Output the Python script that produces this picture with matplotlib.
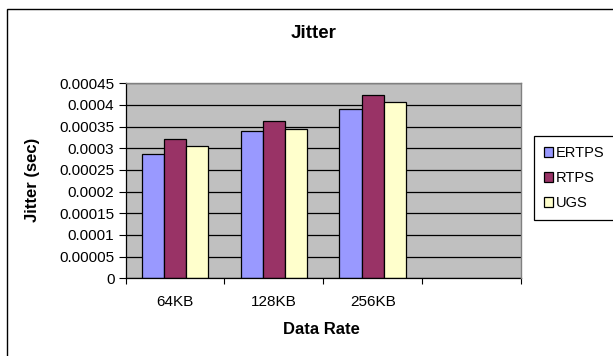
import matplotlib
matplotlib.use("Agg")
import matplotlib.pyplot as plt
from matplotlib.patches import Rectangle
import numpy as np

plt.rcParams['font.family'] = ['Liberation Sans', 'DejaVu Sans']

# Data
categories = ['64KB', '128KB', '256KB', '']
ertps = [0.000286, 0.000340, 0.000391]
rtps = [0.000321, 0.000363, 0.000423]
ugs = [0.000305, 0.000344, 0.000406]
series_names = ['ERTPS', 'RTPS', 'UGS']
y_ticks = [0, 0.00005, 0.0001, 0.00015, 0.0002, 0.00025, 0.0003, 0.00035, 0.0004, 0.00045]
y_tick_labels = ['0', '0.00005', '0.0001', '0.00015', '0.0002', '0.00025',
                 '0.0003', '0.00035', '0.0004', '0.00045']

colors = ['#9999FF', '#993366', '#FFFFCC']

W, H = 613, 356
fig = plt.figure(figsize=(W / 100, H / 100), dpi=100)
fig.patch.set_facecolor('white')

# Chart area border
fig.patches.append(Rectangle((7 / W, -0.2), 2, 1.2 - 9 / H, transform=fig.transFigure,
                             fill=False, edgecolor='black', linewidth=1.0))

left, right, top, bottom = 125.5, 521, 83.3, 278.3
ax = fig.add_axes([left / W, 1 - bottom / H, (right - left) / W, (bottom - top) / H])
ax.set_facecolor('#C0C0C0')

x = np.arange(len(categories)) + 0.5
bw = 0.224
for i, (vals, name, c) in enumerate(zip([ertps, rtps, ugs], series_names, colors)):
    xs = x[:len(vals)] + (i - 1) * bw
    ax.bar(xs, vals, width=bw, color=c, edgecolor='black', linewidth=0.9, label=name, zorder=2)

ax.set_xlim(0, len(categories))
ax.set_ylim(0, 0.00045)

ax.set_yticks(y_ticks)
ax.set_yticklabels(y_tick_labels, fontsize=11)
ax.tick_params(axis='y', length=5, width=0.8, pad=3, color='black')

ax.set_xticks(x)
ax.set_xticklabels(categories, fontsize=11)
ax.set_xticks(np.arange(len(categories) + 1), minor=True)
ax.tick_params(axis='x', which='major', length=0, pad=12)
ax.tick_params(axis='x', which='minor', length=4, width=0.8, color='black')

ax.set_axisbelow(True)
ax.yaxis.grid(True, color='black', linewidth=0.9)
ax.xaxis.grid(False)

for s in ['left', 'bottom']:
    ax.spines[s].set_color('black')
    ax.spines[s].set_linewidth(0.9)
for s in ['top', 'right']:
    ax.spines[s].set_color('#808080')
    ax.spines[s].set_linewidth(1.0)
    ax.spines[s].set_zorder(3)

fig.text(313.5 / W, 1 - 34 / H, 'Jitter', ha='center', va='center',
         fontsize=13.5, fontweight='bold')
fig.text(321 / W, 1 - 329 / H, 'Data Rate', ha='center', va='center',
         fontsize=12, fontweight='bold')
fig.text(32 / W, 1 - 180 / H, 'Jitter (sec)', ha='center', va='center',
         rotation=90, fontsize=12, fontweight='bold')

leg = fig.legend(loc='upper left', bbox_to_anchor=(534 / W, 1 - 222 / H, 90 / W, 86 / H),
                 mode='expand', fontsize=10.5, frameon=True, fancybox=False, framealpha=1,
                 edgecolor='black', handlelength=0.6, handleheight=0.6,
                 handletextpad=0.2, labelspacing=0.75, borderpad=0.7,
                 borderaxespad=0)
leg.get_frame().set_linewidth(0.9)

fig.savefig('out.png', dpi=100)
